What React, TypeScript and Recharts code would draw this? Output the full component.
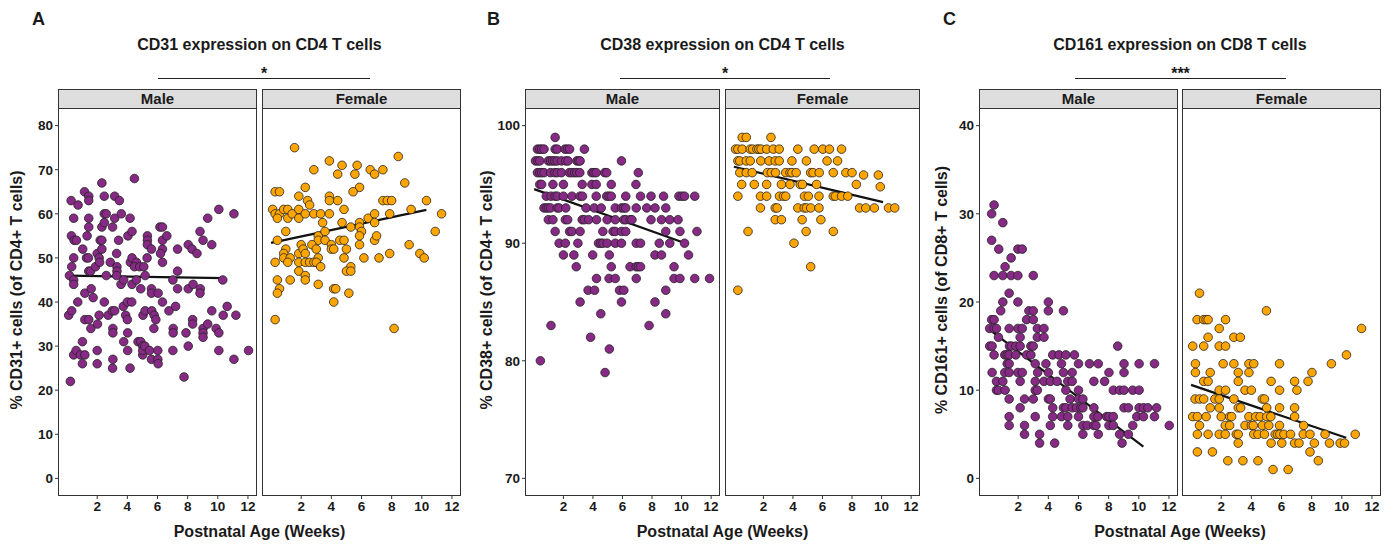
import { ScatterChart, Scatter, XAxis, YAxis, ReferenceLine } from "recharts"

type Pt = [number, number]
type Row = [number, number[]]

const ageTicks = [2, 4, 6, 8, 10, 12]
const ageDomain: [number, number] = [-0.6, 12.6]

const cd31Ticks = [0, 10, 20, 30, 40, 50, 60, 70, 80]
const cd38Ticks = [70, 80, 90, 100]
const cd161Ticks = [0, 10, 20, 30, 40]

// CD31 (% of CD4+), [age in weeks, value]
const cd31Male: Pt[] = [
  [0.22, 22], [0.27, 63], [0.73, 62], [0.16, 46], [0.11, 37], [0.31, 38], [0.29, 55], [0.47, 54],
  [0.62, 54], [0.44, 59], [0.31, 48], [0.44, 50], [0.44, 45], [0.44, 44], [0.71, 40], [0.44, 28],
  [0.6, 29], [0.89, 28], [1.18, 28], [1.02, 31], [1.02, 26], [1.04, 52], [1.16, 65], [1.44, 64],
  [1.44, 63], [1.33, 55], [1.44, 59], [1.44, 57], [1.29, 50], [1.42, 50], [1.44, 47], [1.56, 47],
  [1.18, 42], [1.18, 36], [1.44, 36], [1.6, 43], [1.58, 34], [1.73, 41], [2.0, 29], [2.0, 26],
  [2.02, 35], [2.13, 37], [1.89, 48], [2.0, 51], [2.13, 50], [2.16, 49], [2.2, 54], [2.31, 54],
  [2.31, 52], [2.31, 57], [2.31, 67], [2.47, 64], [2.47, 60], [2.6, 60], [2.47, 58], [2.47, 40],
  [2.6, 46], [2.73, 37], [2.87, 49], [3.02, 57], [3.16, 59], [3.16, 64], [3.47, 63], [3.6, 60],
  [3.29, 51], [3.31, 48], [3.31, 47], [3.29, 46], [3.0, 38], [3.16, 38], [3.04, 34], [3.04, 33],
  [3.04, 27], [3.02, 25], [3.42, 54], [3.58, 44], [3.76, 45], [3.73, 39], [3.89, 37], [4.0, 36],
  [3.76, 31], [4.02, 33], [4.02, 29], [4.18, 25], [4.0, 40], [4.29, 40], [4.04, 55], [4.18, 59],
  [4.31, 56], [4.2, 49], [4.31, 50], [4.31, 44], [4.6, 45], [4.47, 68], [4.6, 49], [4.47, 48],
  [4.82, 48], [5.09, 48], [4.89, 43], [4.71, 31], [4.89, 31], [5.02, 30], [5.02, 28], [5.02, 29],
  [5.16, 30], [5.18, 46], [5.04, 37], [5.18, 38], [5.33, 55], [5.33, 54], [5.33, 53], [5.31, 50],
  [5.47, 29], [5.6, 27], [5.6, 52], [5.6, 43], [5.6, 42], [5.62, 38], [5.76, 34], [5.78, 37],
  [5.89, 36], [6.04, 42], [6.02, 29], [6.02, 27], [6.04, 26], [6.16, 57], [6.33, 57], [6.33, 54],
  [6.33, 52], [6.2, 51], [6.33, 49], [6.33, 40], [6.62, 55], [6.76, 38], [7.02, 45], [7.04, 34],
  [7.04, 33], [7.02, 29], [7.2, 39], [7.33, 52], [7.33, 47], [7.33, 43], [7.76, 23], [7.89, 33],
  [8.04, 53], [8.04, 43], [8.04, 30], [8.29, 52], [8.36, 44], [8.33, 36], [8.33, 35], [8.62, 51],
  [8.82, 56], [8.84, 43], [8.82, 42], [9.02, 54], [9.02, 34], [9.02, 33], [9.02, 32], [9.33, 35],
  [9.33, 59], [9.6, 53], [9.6, 38], [9.89, 34], [10.07, 33], [10.07, 61], [10.07, 29], [10.33, 45],
  [10.36, 37], [10.62, 39], [11.07, 60], [11.07, 27], [11.2, 37], [12.04, 29],
]

const cd31Female: Pt[] = [
  [1.56, 75], [0.27, 65], [0.56, 65], [2.27, 66], [2.84, 70], [3.87, 72], [4.71, 71], [4.42, 69],
  [5.71, 71], [5.56, 69], [6.58, 70], [6.87, 69], [7.42, 70], [8.44, 73], [8.87, 67], [5.87, 66],
  [5.44, 65], [1.84, 64], [2.42, 63], [2.56, 62], [3.87, 64], [3.87, 63], [4.42, 63], [7.42, 63],
  [7.71, 63], [8.0, 63], [10.31, 63], [0.11, 61], [0.27, 60], [0.56, 60], [0.42, 59], [0.84, 61],
  [1.11, 61], [1.11, 59], [1.4, 60], [1.84, 61], [1.84, 59], [2.27, 60], [2.84, 60], [3.29, 60],
  [3.87, 60], [3.42, 58], [4.84, 61], [4.71, 58], [5.29, 57], [5.87, 58], [5.87, 57], [6.0, 56],
  [5.87, 55], [6.44, 59], [6.87, 60], [6.87, 58], [7.87, 60], [9.29, 61], [11.31, 60], [10.89, 56],
  [0.98, 56], [0.42, 54], [3.13, 55], [3.58, 56], [3.13, 54], [3.58, 54], [2.0, 53], [2.71, 53],
  [3.0, 52], [4.0, 53], [4.0, 52], [4.16, 52], [4.56, 54], [4.84, 54], [5.0, 52], [5.87, 53],
  [6.87, 54], [7.0, 55], [9.16, 53], [0.98, 52], [0.84, 51], [0.84, 50], [1.27, 50], [1.84, 51],
  [2.13, 52], [2.27, 51], [3.13, 50], [4.84, 50], [6.16, 50], [7.16, 50], [7.87, 51], [9.87, 51],
  [10.16, 50], [0.27, 49], [1.11, 49], [1.84, 49], [2.27, 49], [2.56, 49], [2.84, 49], [3.0, 49],
  [3.29, 48], [1.84, 47], [2.27, 46], [2.27, 45], [5.29, 48], [5.0, 47], [5.29, 47], [0.42, 45],
  [1.27, 45], [3.13, 44], [0.56, 43], [0.42, 42], [4.16, 43], [4.29, 43], [5.16, 42], [4.16, 40],
  [0.27, 36], [8.16, 34],
]

// CD38 (% of CD4+), rows of [value, ages]
const cd38MaleRows: Row[] = [
  [99, [1.44]],
  [98, [0.24, 0.4, 0.53, 0.69, 1.44, 1.58, 2.11, 2.27, 2.42, 3.42]],
  [97, [0.11, 0.27, 0.4, 0.98, 1.13, 1.27, 1.42, 1.58, 1.87, 2.16, 2.31, 2.91, 3.04, 3.13, 5.93]],
  [96, [0.24, 0.4, 0.53, 0.69, 1.13, 1.42, 1.58, 1.87, 2.4, 2.58, 2.76, 2.91, 3.11, 3.93, 4.07, 4.22, 4.8, 4.93, 7.07]],
  [95, [0.4, 0.53, 1.29, 2.0, 3.27, 3.93, 4.22, 5.24, 6.91]],
  [94, [0.84, 1.16, 1.44, 1.58, 2.0, 2.58, 3.13, 3.29, 4.22, 4.93, 5.09, 5.24, 6.22, 7.22, 7.93, 8.78, 9.82, 10.04, 10.2, 10.89]],
  [93, [0.69, 0.84, 0.98, 1.13, 1.58, 1.71, 2.16, 3.53, 4.09, 4.56, 5.51, 5.93, 6.09, 6.22, 6.93, 7.64, 8.2, 8.93]],
  [92, [0.98, 1.29, 2.13, 2.29, 3.27, 3.42, 3.71, 4.24, 4.96, 5.51, 6.09, 6.22, 6.51, 6.64, 7.93, 8.64, 9.2, 9.76]],
  [91, [1.44, 2.42, 2.58, 3.13, 4.67, 5.36, 5.51, 5.93, 6.22, 8.93, 9.89, 11.04]],
  [90, [1.71, 2.13, 2.98, 4.38, 4.53, 4.67, 4.96, 5.51, 5.93, 6.93, 7.22, 8.49, 9.2, 10.2]],
  [89, [2.0, 2.71, 3.98, 5.11, 8.2, 8.64, 10.47]],
  [88, [2.87, 5.24, 6.51, 6.93, 7.07, 7.22, 9.49]],
  [87, [4.24, 5.09, 5.51, 6.93, 9.49, 9.89, 10.89, 11.89]],
  [86, [3.67, 4.11, 5.8, 6.09, 8.93]],
  [85, [3.13, 5.93, 8.2]],
  [84, [4.53, 8.93]],
  [83, [1.16, 7.8]],
  [82, [3.84]],
  [81, [5.11]],
  [80, [0.44]],
  [79, [4.82]],
]

const cd38FemaleRows: Row[] = [
  [99, [0.56, 0.84, 2.51]],
  [98, [0.11, 0.27, 0.56, 1.11, 1.27, 1.56, 1.69, 1.84, 2.22, 2.67, 3.07, 4.33, 5.44, 6.02, 6.47, 7.29]],
  [97, [0.27, 0.4, 0.84, 1.11, 1.82, 2.38, 2.8, 3.07, 3.93, 4.91, 6.31, 7.02]],
  [96, [0.4, 0.84, 1.24, 2.27, 2.53, 2.82, 3.51, 3.8, 3.93, 4.22, 5.2, 5.36, 5.78, 6.73, 7.58, 8.0]],
  [95.8, [8.78, 9.78]],
  [95, [0.53, 1.38, 2.22, 3.22, 3.8, 4.49, 4.64, 5.6, 8.29]],
  [94.8, [9.91]],
  [94, [0.27, 1.8, 2.22, 3.09, 3.36, 3.51, 4.78, 5.04, 5.76, 6.73, 6.87, 7.29, 7.71]],
  [93, [1.8, 2.8, 2.93, 4.33, 4.76, 4.91, 5.2, 5.76, 8.51, 8.93, 9.51, 10.47, 10.89]],
  [92, [2.8, 3.22, 4.62, 5.89]],
  [91, [0.96, 4.89, 6.73]],
  [90, [4.07]],
  [88, [5.2]],
  [86, [0.27]],
]

// CD161 (% of CD8+), rows of [value, ages]
const cd161MaleRows: Row[] = [
  [31, [0.4]],
  [30, [0.24]],
  [29, [0.98]],
  [27, [0.24]],
  [26, [0.71, 1.98, 2.27]],
  [25, [1.53]],
  [24, [1.13]],
  [23, [0.4, 0.98, 1.53, 1.98, 3.0]],
  [21, [1.4]],
  [20, [0.98, 1.98, 4.0]],
  [19, [0.84, 2.71, 3.0, 4.0, 5.0]],
  [18, [0.24, 0.4, 2.56, 3.0]],
  [17, [0.11, 0.4, 0.56, 1.4, 1.98, 2.27, 3.27, 3.71]],
  [16, [0.69, 2.13, 3.27, 3.71]],
  [15, [0.11, 0.27, 1.42, 1.56, 1.84, 2.13, 2.84, 3.0, 8.6]],
  [14, [0.4, 1.11, 1.27, 1.4, 1.84, 2.56, 2.84, 4.29, 4.71, 5.16, 5.73]],
  [13, [1.27, 1.4, 3.13, 3.84, 4.87, 6.0, 6.73, 7.31, 9.02, 10.02, 11.04]],
  [12, [0.27, 1.11, 1.4, 1.98, 2.27, 3.29, 4.0, 5.0, 5.58, 8.02, 9.02]],
  [11, [0.56, 0.98, 2.13, 3.13, 3.71, 4.13, 4.58, 5.29, 5.58, 7.02, 7.73]],
  [10, [0.56, 0.69, 1.13, 3.13, 3.27, 5.16, 6.0, 8.31, 8.73, 9.02, 9.6, 10.02]],
  [9, [1.4, 2.42, 3.0, 4.0, 4.13, 5.44, 6.0, 6.29]],
  [8, [2.13, 4.29, 5.0, 5.16, 5.58, 5.87, 6.16, 6.29, 7.02, 9.02, 9.31, 10.02, 10.31, 10.6, 11.18]],
  [7, [1.4, 3.13, 4.29, 4.87, 5.29, 6.0, 7.02, 7.29, 7.87, 8.02, 8.31, 9.87, 10.31, 11.04]],
  [6, [1.4, 2.42, 4.13, 5.29, 6.29, 6.58, 7.02, 7.16, 8.02, 8.31, 9.6, 12.02]],
  [5, [2.42, 3.42, 6.29, 7.31, 8.73, 9.31]],
  [4, [3.42, 4.42, 8.89]],
]

const cd161FemaleRows: Row[] = [
  [21, [0.56]],
  [19, [5.0]],
  [18, [0.4, 0.84, 1.0, 1.13, 2.29]],
  [17, [1.87, 11.31]],
  [16, [1.13, 2.84, 3.27]],
  [15, [0.11, 0.84, 1.87, 2.29]],
  [14, [10.31]],
  [13, [0.29, 2.13, 2.84, 3.84, 4.16, 5.87, 9.31]],
  [12, [0.29, 1.27, 3.13, 3.84, 8.02]],
  [11, [0.84, 1.13, 3.13, 5.31, 6.87, 7.76]],
  [10, [1.87, 2.29, 3.58, 4.0, 5.87, 7.02]],
  [9, [0.27, 0.56, 0.84, 1.58, 1.87, 2.84, 4.73, 4.87]],
  [8, [1.27, 1.87, 3.13, 3.29, 5.02, 5.87, 6.87]],
  [7, [0.11, 0.42, 1.0, 2.0, 2.56, 2.69, 3.84, 4.29, 4.58, 5.02, 5.29, 6.87]],
  [6, [0.56, 2.27, 2.56, 3.58, 4.0, 4.13, 4.73, 5.16, 5.87, 7.47]],
  [5, [0.42, 1.13, 1.87, 2.27, 3.0, 3.13, 4.16, 4.44, 4.87, 5.58, 5.73, 5.89, 6.16, 6.6, 7.44, 7.89, 8.89, 10.89]],
  [4, [3.13, 5.31, 6.02, 6.87, 7.16, 8.18, 9.18, 9.89, 10.18]],
  [3, [0.42, 1.42, 7.89]],
  [2, [2.44, 3.44, 4.44, 8.44]],
  [1, [5.44, 6.44]],
]

// linear fit end points [age, value]
const cd31MaleFit: Pt[] = [[0.09, 46.0], [10.4, 45.4]]
const cd31FemaleFit: Pt[] = [[0, 53.4], [10.3, 60.9]]
const cd38MaleFit: Pt[] = [[0.02, 94.6], [10.02, 90.1]]
const cd38FemaleFit: Pt[] = [[0, 96.5], [10.1, 93.5]]
const cd161MaleFit: Pt[] = [[0.29, 16.6], [10.3, 3.6]]
const cd161FemaleFit: Pt[] = [[0, 10.6], [10.29, 4.6]]

const PURPLE = "#872a85"
const ORANGE = "#ffa500"
const INK = "#1a1a1a"
const FRAME = "#333333"

const PLOT_TOP = 108
const PLOT_H = 388
const STRIP_TOP = 89

const fromPairs = (pts: Pt[]) => pts.map(([age, pct]) => ({ age, pct }))
const fromRows = (rows: Row[]) =>
  rows.flatMap(([pct, ages]) => ages.map((age) => ({ age, pct })))

type FacetProps = {
  left: number
  width: number
  label: string
  data: { age: number; pct: number }[]
  fit: Pt[]
  color: string
  yDomain: [number, number]
  yTicks: number[]
  showY: boolean
}

function Facet({ left, width, label, data, fit, color, yDomain, yTicks, showY }: FacetProps) {
  const axisW = showY ? 50 : 0
  const tickFont = { fill: INK, fontSize: 13.5, fontWeight: 700 }
  return (
    <>
      <div
        style={{
          position: "absolute",
          left,
          top: STRIP_TOP,
          width,
          height: PLOT_TOP - STRIP_TOP + 1,
          boxSizing: "border-box",
          border: `1.5px solid ${FRAME}`,
          background: "#dedede",
          textAlign: "center",
          fontSize: 15,
          fontWeight: 700,
          lineHeight: "17px",
          color: INK,
        }}
      >
        {label}
      </div>
      <div style={{ position: "absolute", left: left - axisW, top: PLOT_TOP }}>
        <ScatterChart
          width={width + axisW}
          height={PLOT_H + 40}
          margin={{ top: 0, right: 0, bottom: 0, left: 0 }}
        >
          <XAxis
            type="number"
            dataKey="age"
            domain={ageDomain}
            ticks={ageTicks}
            interval={0}
            allowDataOverflow
            axisLine={false}
            tickLine={{ stroke: FRAME }}
            tickSize={3}
            tickMargin={2}
            height={40}
            tick={tickFont}
          />
          <YAxis
            type="number"
            dataKey="pct"
            domain={yDomain}
            ticks={yTicks}
            interval={0}
            allowDataOverflow
            hide={!showY}
            width={axisW}
            axisLine={false}
            tickLine={{ stroke: FRAME }}
            tickSize={3}
            tickMargin={2}
            tick={tickFont}
          />
          <Scatter
            data={data}
            isAnimationActive={false}
            shape={(p: any) => (
              <circle cx={p.cx} cy={p.cy} r={4.3} fill={color} stroke="#222" strokeWidth={0.8} />
            )}
          />
          <ReferenceLine
            segment={[
              { x: fit[0][0], y: fit[0][1] },
              { x: fit[1][0], y: fit[1][1] },
            ]}
            stroke="#111"
            strokeWidth={2.2}
          />
        </ScatterChart>
      </div>
      <div
        style={{
          position: "absolute",
          left,
          top: PLOT_TOP,
          width,
          height: PLOT_H,
          boxSizing: "border-box",
          border: `1.5px solid ${FRAME}`,
          pointerEvents: "none",
        }}
      />
    </>
  )
}

type PanelProps = {
  letter: string
  letterX: number
  title: string
  stars: string
  barFrom: number
  barTo: number
  yTitle: string
  yTitleX: number
  maleLeft: number
  femaleLeft: number
  width: number
  male: { age: number; pct: number }[]
  female: { age: number; pct: number }[]
  maleFit: Pt[]
  femaleFit: Pt[]
  yDomain: [number, number]
  yTicks: number[]
}

function Panel(p: PanelProps) {
  const center = (p.maleLeft + p.femaleLeft + p.width) / 2
  const textStyle = {
    position: "absolute" as const,
    fontWeight: 700,
    color: INK,
    whiteSpace: "nowrap" as const,
    lineHeight: 1,
  }
  return (
    <>
      <div style={{ ...textStyle, left: p.letterX, top: 10, fontSize: 18 }}>{p.letter}</div>
      <div style={{ ...textStyle, left: center, top: 37, fontSize: 16, transform: "translateX(-50%)" }}>
        {p.title}
      </div>
      <div style={{ ...textStyle, left: (p.barFrom + p.barTo) / 2, top: 66, fontSize: 16, transform: "translateX(-50%)" }}>
        {p.stars}
      </div>
      <div
        style={{
          position: "absolute",
          left: p.barFrom,
          top: 77.5,
          width: p.barTo - p.barFrom,
          height: 1.6,
          background: "#222",
        }}
      />
      <div
        style={{
          ...textStyle,
          left: p.yTitleX,
          top: 290,
          fontSize: 16,
          transform: "translate(-50%, -50%) rotate(-90deg)",
        }}
      >
        {p.yTitle}
      </div>
      <div style={{ ...textStyle, left: center, top: 524, fontSize: 16, transform: "translateX(-50%)" }}>
        Postnatal Age (Weeks)
      </div>
      <Facet
        left={p.maleLeft}
        width={p.width}
        label="Male"
        data={p.male}
        fit={p.maleFit}
        color={PURPLE}
        yDomain={p.yDomain}
        yTicks={p.yTicks}
        showY
      />
      <Facet
        left={p.femaleLeft}
        width={p.width}
        label="Female"
        data={p.female}
        fit={p.femaleFit}
        color={ORANGE}
        yDomain={p.yDomain}
        yTicks={p.yTicks}
        showY={false}
      />
    </>
  )
}

export default function App() {
  return (
    <div
      style={{
        position: "absolute",
        left: 0,
        top: 0,
        width: 1397,
        height: 545,
        background: "#fff",
        fontFamily: "'Liberation Sans', Arial, sans-serif",
        overflow: "hidden",
      }}
    >
      <Panel
        letter="A"
        letterX={32}
        title="CD31 expression on CD4 T cells"
        stars="*"
        barFrom={158}
        barTo={370}
        yTitle="% CD31+ cells (of CD4+ T cells)"
        yTitleX={17}
        maleLeft={58}
        femaleLeft={262}
        width={199}
        male={fromPairs(cd31Male)}
        female={fromPairs(cd31Female)}
        maleFit={cd31MaleFit}
        femaleFit={cd31FemaleFit}
        yDomain={[-4, 84]}
        yTicks={cd31Ticks}
      />
      <Panel
        letter="B"
        letterX={487}
        title="CD38 expression on CD4 T cells"
        stars="*"
        barFrom={620}
        barTo={830}
        yTitle="% CD38+ cells (of CD4+ T cells)"
        yTitleX={487}
        maleLeft={525}
        femaleLeft={725}
        width={195}
        male={fromRows(cd38MaleRows)}
        female={fromRows(cd38FemaleRows)}
        maleFit={cd38MaleFit}
        femaleFit={cd38FemaleFit}
        yDomain={[68.5, 101.5]}
        yTicks={cd38Ticks}
      />
      <Panel
        letter="C"
        letterX={943}
        title="CD161 expression on CD8 T cells"
        stars="***"
        barFrom={1075}
        barTo={1286}
        yTitle="% CD161+ cells (of CD8+ T cells)"
        yTitleX={942}
        maleLeft={979}
        femaleLeft={1182}
        width={199}
        male={fromRows(cd161MaleRows)}
        female={fromRows(cd161FemaleRows)}
        maleFit={cd161MaleFit}
        femaleFit={cd161FemaleFit}
        yDomain={[-2, 42]}
        yTicks={cd161Ticks}
      />
    </div>
  )
}
